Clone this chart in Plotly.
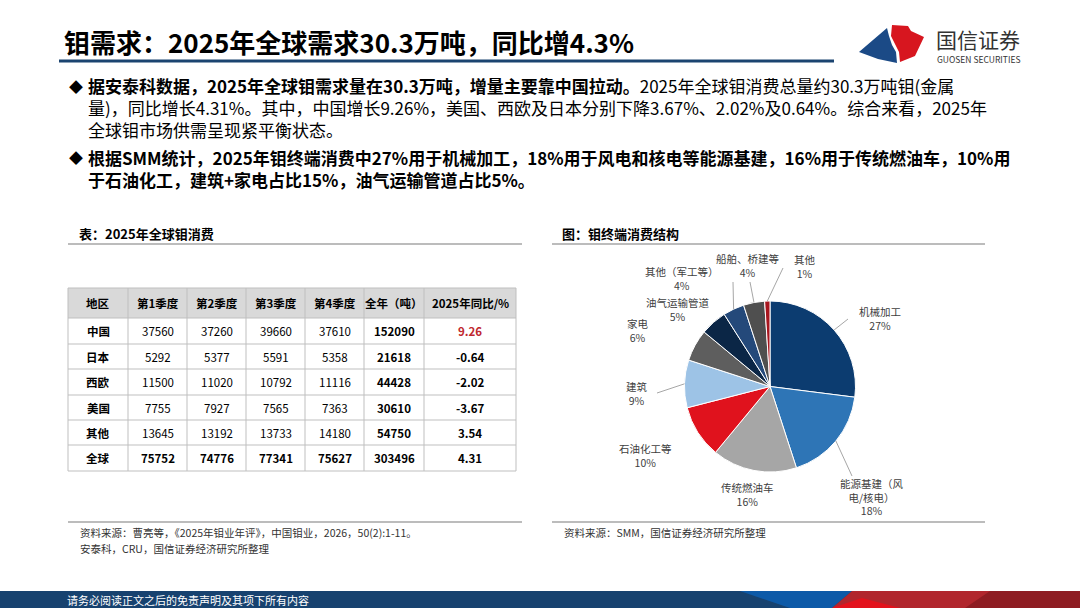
import math
import plotly.graph_objects as go

W, H = 1080, 608
FONT = "Noto Sans CJK SC, Noto Sans, sans-serif"

# ---- table data: 2025 global molybdenum consumption (t) ----
table_header = ["地区", "第1季度", "第2季度", "第3季度", "第4季度", "全年（吨）", "2025年同比/%"]
regions = ["中国", "日本", "西欧", "美国", "其他", "全球"]
q1 = [37560, 5292, 11500, 7755, 13645, 75752]
q2 = [37260, 5377, 11020, 7927, 13192, 74776]
q3 = [39660, 5591, 10792, 7565, 13733, 77341]
q4 = [37610, 5358, 11116, 7363, 14180, 75627]
full_year = [152090, 21618, 44428, 30610, 54750, 303496]
yoy = [9.26, -0.64, -2.02, -3.67, 3.54, 4.31]

# ---- pie data: end-use structure (%) ----
end_uses = ["机械加工", "能源基建（风电/核电）", "传统燃油车", "石油化工等", "建筑",
            "家电", "油气运输管道", "其他（军工等）", "船舶、桥建等", "其他"]
shares = [27, 18, 16, 10, 9, 6, 5, 4, 4, 1]
pie_colors = ["#0c3c70", "#2e75b6", "#a6a6a6", "#e0121d", "#9dc3e6",
              "#5e5e5e", "#0b2646", "#24497a", "#4f4f4f", "#a8161f"]


def px(x):
    return x / W


def py(y):
    return 1 - y / H


def path(points):
    return "M " + " L ".join(f"{px(x):.5f},{py(y):.5f}" for x, y in points) + " Z"


def text(x, y, s, size, color="#000000", anchor="left", bold=False, align="center"):
    return dict(x=px(x), y=py(y), xref="paper", yref="paper", showarrow=False,
                text=f"<b>{s}</b>" if bold else s, xanchor=anchor, yanchor="middle",
                font=dict(family=FONT, size=size, color=color), align=align)


def hline(x0, x1, y, color, width):
    return dict(type="line", xref="paper", yref="paper", x0=px(x0), x1=px(x1),
                y0=py(y), y1=py(y), line=dict(color=color, width=width))


fig = go.Figure()
shapes = []
annotations = []

# ---- pie ----
pie_box = (683, 857, 301, 472)
fig.add_trace(go.Pie(
    labels=end_uses, values=shares, sort=False, direction="clockwise", rotation=0,
    marker=dict(colors=pie_colors, line=dict(color="white", width=1)),
    textinfo="none", showlegend=False,
    domain=dict(x=[px(pie_box[0]), px(pie_box[1])], y=[py(pie_box[3]), py(pie_box[2])]),
))

# ---- header ----
annotations.append(text(62, 42, "钼需求：2025年全球需求30.3万吨，同比增4.3%", 26, bold=True))
shapes.append(hline(59, 834, 61, "#1b4470", 3))

# logo
shapes.append(dict(type="path", xref="paper", yref="paper", line=dict(width=0), fillcolor="#1b4a86",
                   path=path([(859, 52), (887, 28), (889, 36), (892, 45), (896, 52), (897, 63), (878, 59)])))
shapes.append(dict(type="path", xref="paper", yref="paper", line=dict(width=0), fillcolor="#d7161f",
                   path=path([(892, 25), (908, 26), (911, 31), (924, 37), (915, 56), (900, 62),
                              (899, 52), (895, 44), (891, 36)])))
annotations.append(text(934, 39, "国信证券", 21, color="#333333"))
annotations.append(text(935, 59, "GUOSEN SECURITIES", 8.5, color="#333333"))

# ---- bullet text ----
para1 = ("<b>据安泰科数据，2025年全球钼需求量在30.3万吨，增量主要靠中国拉动。</b>2025年全球钼消费总量约30.3万吨钼(金属<br>"
         "量)，同比增长4.31%。其中，中国增长9.26%，美国、西欧及日本分别下降3.67%、2.02%及0.64%。综合来看，2025年<br>"
         "全球钼市场供需呈现紧平衡状态。")
para2 = ("<b>根据SMM统计，2025年钼终端消费中27%用于机械加工，18%用于风电和核电等能源基建，16%用于传统燃油车，10%用<br>"
         "于石油化工，建筑+家电占比15%，油气运输管道占比5%。</b>")
annotations.append(text(86, 107, para1, 17, align="left"))
annotations.append(text(86, 168, para2, 17, align="left"))
for y in (86, 157):
    annotations.append(text(67, y, "◆", 14))

# ---- section titles and rules ----
annotations.append(text(77, 233, "表：2025年全球钼消费", 13, bold=True))
annotations.append(text(560, 233, "图：钼终端消费结构", 13, bold=True))
for x0, x1 in ((68, 522), (552, 985)):
    shapes.append(hline(x0, x1, 244, "#a6a6a6", 1.5))
    shapes.append(hline(x0, x1, 522, "#a6a6a6", 1.5))

# ---- table ----
col_edges = [68, 128, 187, 246, 305, 364, 424, 516]
row_edges = [288, 318, 344, 369, 395, 420, 445, 471]
grid = "#bfbfbf"
shapes.append(dict(type="rect", xref="paper", yref="paper", x0=px(col_edges[0]), x1=px(col_edges[-1]),
                   y0=py(row_edges[1]), y1=py(row_edges[0]), line=dict(width=0), fillcolor="#d9d9d9"))
for x in col_edges:
    shapes.append(dict(type="line", xref="paper", yref="paper", x0=px(x), x1=px(x),
                       y0=py(row_edges[0]), y1=py(row_edges[-1]), line=dict(color=grid, width=1)))
for y in row_edges:
    shapes.append(hline(col_edges[0], col_edges[-1], y, grid, 1))

for j, h in enumerate(table_header):
    annotations.append(text((col_edges[j] + col_edges[j + 1]) / 2, (row_edges[0] + row_edges[1]) / 2,
                            h, 11.5, anchor="center", bold=True))

last = len(regions) - 1
table_cols = [regions, q1, q2, q3, q4, full_year, [f"{v:.2f}" for v in yoy]]
for j, col in enumerate(table_cols):
    xc = (col_edges[j] + col_edges[j + 1]) / 2
    for i, v in enumerate(col):
        yc = (row_edges[i + 1] + row_edges[i + 2]) / 2
        bold = j == 0 or j >= 5 or i == last
        color = "#c0282e" if (j == 6 and regions[i] == "中国") else "#000000"
        annotations.append(text(xc, yc, str(v), 11.5, color=color, anchor="center", bold=bold))

# ---- pie labels and leader lines ----
cx = (pie_box[0] + pie_box[1]) / 2
cy = (pie_box[2] + pie_box[3]) / 2
r = min(pie_box[1] - pie_box[0], pie_box[3] - pie_box[2]) / 2
label_xy = [(880, 318), (872, 497), (747, 494), (645, 455), (637, 393),
            (638, 330), (678, 309), (682, 279), (748, 265), (805, 266)]
leader_to = {0: (848, 319), 1: (852, 476), 4: (657, 393), 7: (733, 282), 8: (750, 282), 9: (783, 268)}
total = sum(shares)
cum = 0
for i, (name, v) in enumerate(zip(end_uses, shares)):
    mid = (cum + v / 2) / total * 2 * math.pi
    cum += v
    name_txt = name[:6] + "<br>" + name[6:] if len(name) > 8 else name
    lx, ly = label_xy[i]
    annotations.append(text(lx, ly, f"{name_txt}<br>{v}%", 10.5, color="#404040", anchor="center"))
    if i in leader_to:
        ex, ey = cx + r * math.sin(mid), cy - r * math.cos(mid)
        tx, ty = leader_to[i]
        shapes.append(dict(type="line", xref="paper", yref="paper", x0=px(ex), y0=py(ey),
                           x1=px(tx), y1=py(ty), line=dict(color="#a6a6a6", width=1)))

# ---- sources ----
annotations.append(text(78, 532, "资料来源：曹亮等，《2025年钼业年评》，中国钼业，2026，50(2):1-11。", 10.5, color="#333333"))
annotations.append(text(78, 548, "安泰科，CRU，国信证券经济研究所整理", 10.5, color="#333333"))
annotations.append(text(562, 532, "资料来源：SMM，国信证券经济研究所整理", 10.5, color="#333333"))

# ---- bottom bar ----
shapes.append(dict(type="rect", xref="paper", yref="paper", x0=0, x1=1, y0=py(608), y1=py(591),
                   line=dict(width=0), fillcolor="#17426f"))
shapes.append(dict(type="path", xref="paper", yref="paper", line=dict(width=0), fillcolor="#0d5aa8",
                   path=path([(740, 591), (852, 591), (832, 608), (790, 608)])))
shapes.append(dict(type="path", xref="paper", yref="paper", line=dict(width=0), fillcolor="#b1262d",
                   path=path([(852, 591), (1080, 591), (1080, 608), (832, 608)])))
shapes.append(dict(type="path", xref="paper", yref="paper", line=dict(width=0), fillcolor="#e3121c",
                   path=path([(832, 608), (862, 598), (900, 608)])))
shapes.append(dict(type="path", xref="paper", yref="paper", line=dict(width=0), fillcolor="#8e1c22",
                   path=path([(990, 591), (1080, 591), (1080, 608), (965, 608)])))
annotations.append(text(65, 600, "请务必阅读正文之后的免责声明及其项下所有内容", 11, color="#ffffff"))

fig.update_layout(
    width=W, height=H, margin=dict(l=0, r=0, t=0, b=0),
    paper_bgcolor="white", plot_bgcolor="white",
    shapes=shapes, annotations=annotations,
    font=dict(family=FONT),
)

fig.write_html("out.html", config={"displayModeBar": False},
               post_script="document.body.style.margin='0';")
